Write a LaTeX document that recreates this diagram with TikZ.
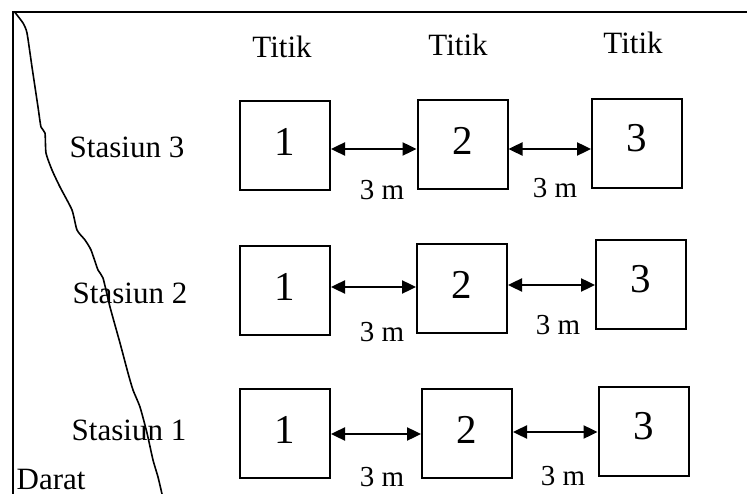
\documentclass[tikz,border=0pt]{standalone}
\usepackage{fontspec}
\setmainfont{Liberation Serif}
\usetikzlibrary{arrows.meta}

\begin{document}
\begin{tikzpicture}[x=1pt,y=-1pt,
  box/.style={draw,line width=2pt,minimum width=90pt,minimum height=89pt,inner sep=0pt},
  dist/.style={line width=2.4pt,{Triangle[length=14pt,width=13pt]}-{Triangle[length=14pt,width=13pt]}},
  lbl/.style={font=\fontsize{31}{31}\selectfont,inner sep=0pt},
  num/.style={font=\fontsize{41}{41}\selectfont,inner sep=0pt},
  meter/.style={font=\fontsize{29}{29}\selectfont,inner sep=0pt}]
  \useasboundingbox (0,0) rectangle (747,494);

  % frame (top and left sides)
  \draw[line width=2pt] (747,12.5) -- (13.3,12.5) -- (13.3,494);

  % shoreline
  \draw[line width=1.6pt,line join=round] plot[smooth,tension=0.35] coordinates {
    (15,12.5) (23,23) (27,33) (32,67) (38,107) (41,127) (45,133) (46,153)
    (52,170) (60,187) (72,210) (77,230) (85,240) (91,250) (98,270) (103,278)
    (110,307) (120,343) (128,373) (133,390) (140,407) (147,433) (153,460)
    (158,477) (162,494)};

  % column headings
  \node[lbl] (t1) at (282,47) {Titik};
  \node[lbl] (t2) at (458,45) {Titik};
  \node[lbl] (t3) at (633,43) {Titik};

  % station names
  \node[lbl] (s3) at (127,147) {Stasiun 3};
  \node[lbl] (s2) at (130,293) {Stasiun 2};
  \node[lbl] (s1) at (129,430) {Stasiun 1};
  \node[lbl,anchor=west] (darat) at (16.5,480) {Darat};

  % sampling points
  \node[box] (b31) at (285,145.5) {};
  \node[box] (b32) at (462.5,144.5) {};
  \node[box] (b33) at (637,143.5) {};
  \node[box] (b21) at (285,291) {};
  \node[box] (b22) at (462,288.5) {};
  \node[box] (b23) at (641,284.5) {};
  \node[box] (b11) at (285,433.5) {};
  \node[box] (b12) at (467,433.5) {};
  \node[box] (b13) at (643.5,431.5) {};

  \foreach \r in {1,2,3}{
    \node[num] (n\r1) at ([yshift=4pt]b\r1.center) {1};
    \node[num] (n\r2) at ([yshift=4pt]b\r2.center) {2};
    \node[num] (n\r3) at ([yshift=5pt]b\r3.center) {3};
  }

  % distances between points
  \draw[dist] ([yshift=-3.5pt]b31.east) -- ([yshift=-3.5pt]b31.east -| b32.west);
  \draw[dist] ([yshift=-4.5pt]b32.east) -- ([yshift=-4.5pt]b32.east -| b33.west);
  \draw[dist] ([yshift=4pt]b21.east) -- ([yshift=4pt]b21.east -| b22.west);
  \draw[dist] ([yshift=3.5pt]b22.east) -- ([yshift=3.5pt]b22.east -| b23.west);
  \draw[dist] ([yshift=-0.5pt]b11.east) -- ([yshift=-0.5pt]b11.east -| b12.west);
  \draw[dist] ([yshift=1.5pt]b12.east) -- ([yshift=1.5pt]b12.east -| b13.west);

  \node[meter] (m31) at (382,190) {3 m};
  \node[meter] (m32) at (555,188) {3 m};
  \node[meter] (m21) at (382,332) {3 m};
  \node[meter] (m22) at (558,325) {3 m};
  \node[meter] (m11) at (382,477) {3 m};
  \node[meter] (m12) at (563,476) {3 m};
\end{tikzpicture}
\end{document}
